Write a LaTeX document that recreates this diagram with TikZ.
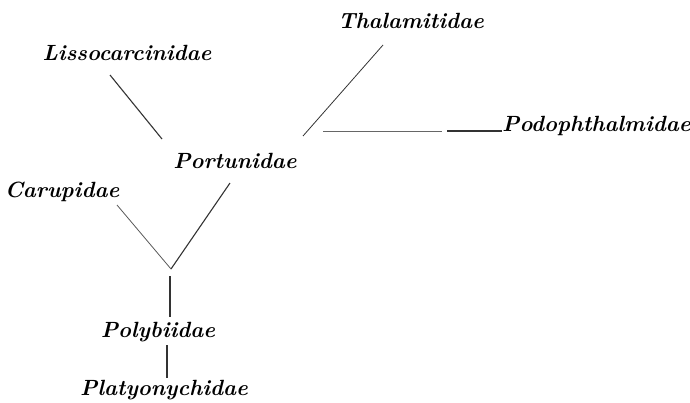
\documentclass[tikz,border=0pt]{standalone}
\usepackage{tikz}

\begin{document}
\begin{tikzpicture}[x=1pt,y=-1pt,
    family/.style={font=\fontsize{22}{26}\selectfont\bfseries\itshape, inner sep=0pt, anchor=base},
    branch/.style={draw=black!80, line width=1.1pt}]
    \useasboundingbox (0,0) rectangle (690,402);
    % family names
    \node[family] (thal) at (411,28) {Thalamitidae};
    \node[family] (liss) at (127,60) {Lissocarcinidae};
    \node[family, anchor=base west] (podo) at (502,131) {Podophthalmidae};
    \node[family] (port) at (235,168) {Portunidae};
    \node[family] (caru) at (62,197) {Carupidae};
    \node[family] (poly) at (158,337) {Polybiidae};
    \node[family] (plat) at (164,395) {Platyonychidae};
    % ends of the branches
    \coordinate (liss-a) at (110,75);
    \coordinate (liss-b) at (162,139);
    \coordinate (thal-a) at (383,45);
    \coordinate (thal-b) at (303,136);
    \coordinate (podo-a) at (323,131);
    \coordinate (podo-b) at (442,131);
    \coordinate (podo-c) at (447,131);
    \coordinate (port-a) at (230,183);
    \coordinate (caru-a) at (117,205);
    \coordinate (fork) at (171,269);
    \coordinate (stem-a) at (170,276);
    \coordinate (stem-b) at (170,317);
    \coordinate (poly-a) at (167,345);
    \coordinate (plat-a) at (167,378);
    % branches
    \draw[branch] (liss-a) -- (liss-b);
    \draw[branch, line width=0.8pt] (thal-a) -- (thal-b);
    \draw[branch, line width=0.7pt, draw=black!60] (podo-a) -- (podo-b);
    \draw[branch] (podo-c) -- (podo.base west);
    \draw[branch] (port-a) -- (fork);
    \draw[branch, line width=0.8pt, draw=black!65] (caru-a) -- (fork);
    \draw[branch] (stem-a) -- (stem-b);
    \draw[branch] (poly-a) -- (plat-a);
\end{tikzpicture}
\end{document}
